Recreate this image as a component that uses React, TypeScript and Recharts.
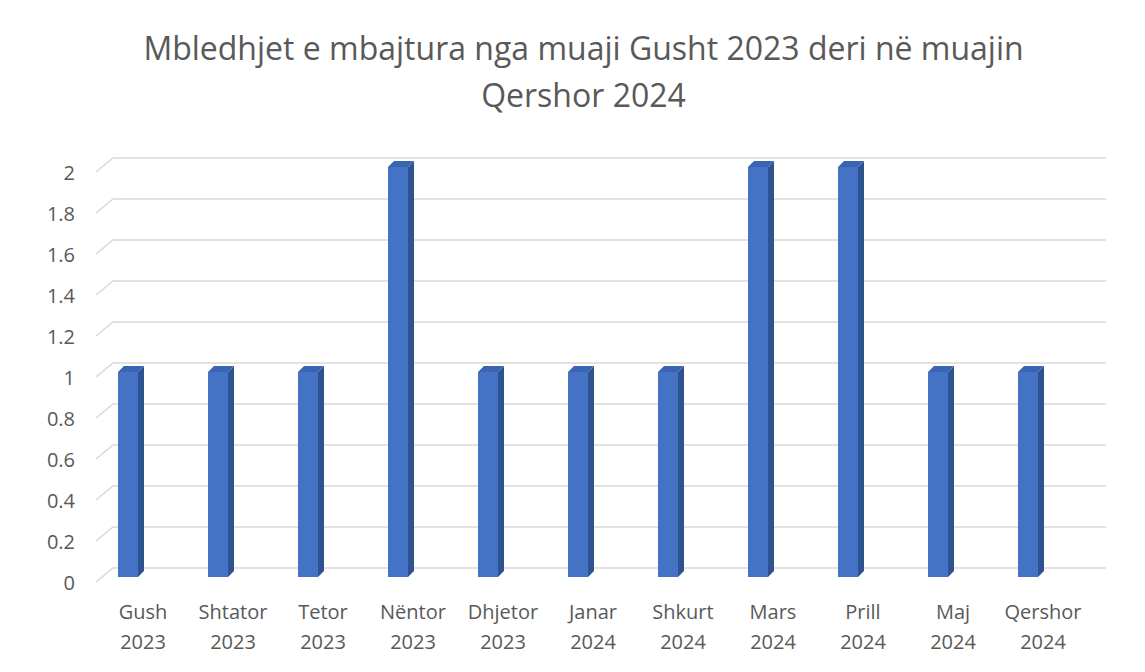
import React from "react";
import { BarChart, Bar, XAxis, YAxis, CartesianGrid } from "recharts";

const months = ["Gush", "Shtator", "Tetor", "Nëntor", "Dhjetor", "Janar", "Shkurt", "Mars", "Prill", "Maj", "Qershor"];
const years = ["2023", "2023", "2023", "2023", "2023", "2024", "2024", "2024", "2024", "2024", "2024"];
const meetings = [1, 1, 1, 2, 1, 1, 1, 2, 2, 1, 1];
const yTicks = [0, 0.2, 0.4, 0.6, 0.8, 1, 1.2, 1.4, 1.6, 1.8, 2];
const titleLines = ["Mbledhjet e mbajtura nga muaji Gusht 2023 deri në muajin", "Qershor 2024"];

const data = months.map((m, i) => ({ name: m + " " + years[i], month: m, year: years[i], value: meetings[i] }));

const FONT = "'Open Sans', 'Noto Sans', sans-serif";
const TEXT = "#595959";
const GRID = "#d9d9d9";

const Bar3D = (props: any) => {
  const { x, y, width, height } = props;
  if (height == null || height <= 0) return null;
  const fx = x - 15;
  const d = 6;
  return (
    <g>
      <polygon points={`${fx + width},${y} ${fx + width + d},${y - d} ${fx + width + d},${y + height - d} ${fx + width},${y + height}`} fill="#2f5290" />
      <polygon points={`${fx},${y} ${fx + d},${y - d} ${fx + width + d},${y - d} ${fx + width},${y}`} fill="#3a64b2" />
      <rect x={fx} y={y} width={width} height={height} fill="#4472c4" />
    </g>
  );
};

const gridLine = (props: any) => {
  const { y1, key } = props;
  const y = Number(y1);
  return (
    <polyline
      key={key}
      points={`96,${y + 5} 113,${y - 9} 1106,${y - 9}`}
      fill="none"
      stroke={GRID}
      strokeWidth={1.6}
    />
  );
};

const YTick = (props: any) => {
  const { y, payload } = props;
  return (
    <text x={75} y={y + 5} textAnchor="end" dominantBaseline="central" fill={TEXT} fontSize={20} fontFamily={FONT}>
      {String(payload.value)}
    </text>
  );
};

const XTick = (props: any) => {
  const { x, index } = props;
  const d = data[index] || { month: "", year: "" };
  return (
    <text x={x} textAnchor="middle" fill={TEXT} fontSize={20} fontFamily={FONT}>
      <tspan x={x} y={619}>{d.month}</tspan>
      <tspan x={x} y={649}>{d.year}</tspan>
    </text>
  );
};

export default function App() {
  return (
    <div style={{ position: "relative", width: 1145, height: 672, margin: -8, overflow: "hidden", background: "#fff" }}>
      <div
        style={{
          position: "absolute",
          left: 0,
          top: 24,
          width: 1167,
          textAlign: "center",
          fontFamily: FONT,
          fontSize: 32,
          lineHeight: "47px",
          color: TEXT,
        }}
      >
        {titleLines.map((t, i) => (
          <div key={i}>{t}</div>
        ))}
      </div>
      <div style={{ position: "absolute", left: 0, top: 0 }}>
        <BarChart width={1145} height={672} data={data} margin={{ top: 167, right: 57, bottom: 35, left: 38 }}>
          <CartesianGrid vertical={false} horizontal={gridLine} />
          <YAxis
            domain={[0, 2]}
            ticks={yTicks}
            width={60}
            axisLine={false}
            tickLine={false}
            tick={<YTick />}
            interval={0}
          />
          <XAxis dataKey="name" height={60} axisLine={false} tickLine={false} interval={0} tick={<XTick />} />
          <Bar dataKey="value" barSize={20} shape={<Bar3D />} isAnimationActive={false} />
        </BarChart>
      </div>
      <svg width={1145} height={672} style={{ position: "absolute", left: 0, top: 0, pointerEvents: "none" }}>
        <polyline points="7,700 7,6 1200,6" fill="none" stroke="#d4d4d4" strokeWidth={2} />
      </svg>
    </div>
  );
}
